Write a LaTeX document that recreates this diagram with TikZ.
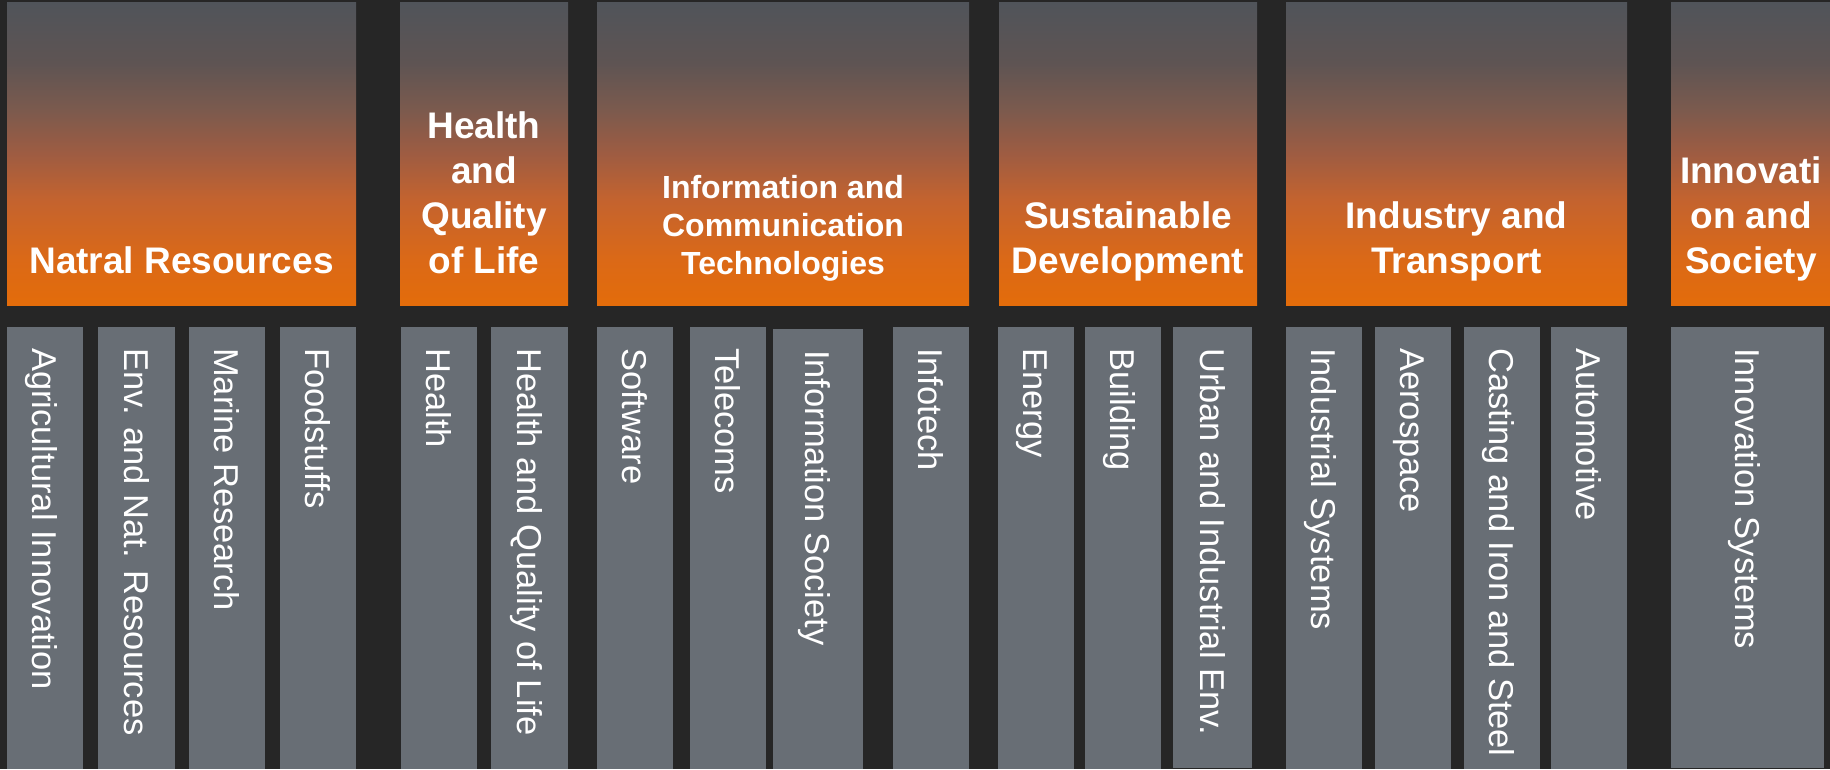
\documentclass[tikz,border=0pt]{standalone}
\usepackage{fontspec}
\setmainfont{Liberation Sans}
\usetikzlibrary{calc}
\definecolor{bgdark}{HTML}{262626}
\definecolor{subgray}{HTML}{686E75}
\definecolor{gA}{HTML}{50545A}
\definecolor{gB}{HTML}{5E5453}
\definecolor{gC}{HTML}{7A5A4E}
\definecolor{gD}{HTML}{9E5C42}
\definecolor{gE}{HTML}{C3632F}
\definecolor{gF}{HTML}{DB6917}
\definecolor{gG}{HTML}{E36C0A}
\pgfdeclareverticalshading{hdrshade}{100bp}{color(0bp)=(gG); color(25bp)=(gG); color(32.5bp)=(gF); color(42.5bp)=(gE); color(50bp)=(gD); color(57.5bp)=(gC); color(65bp)=(gB); color(75bp)=(gA); color(100bp)=(gA)}
\newcommand{\subbox}[6]{%
  \node[sub, minimum width=#3-#2, minimum height=#5-#4] (#1) at (#2,#4) {};
  \node[stxt] (#1t) at ($(#1.north)+(-12.4pt,-21pt)$) {#6};
}
\begin{document}
\begin{tikzpicture}[x=1pt,y=-1pt,
  hdr/.style={shading=hdrshade, anchor=north west, inner sep=0pt, outer sep=0pt, minimum height=303pt},
  sub/.style={fill=subgray, anchor=north west, inner sep=0pt, outer sep=0pt},
  htxt/.style={text=white, font=\bfseries\fontsize{37}{44.7}\selectfont, align=center, anchor=base, inner sep=0pt},
  ictxt/.style={text=white, font=\bfseries\fontsize{32}{38}\selectfont, align=center, anchor=base, inner sep=0pt},
  stxt/.style={text=white, font=\fontsize{34.5}{40}\selectfont, rotate=-90, anchor=base west, inner sep=0pt}]
\useasboundingbox (0,0) rectangle (1830,769);
\fill[bgdark] (0,0) rectangle (1830,769);
% headers
\node[hdr, minimum width=349pt] (nr) at (7,2) {};
\node[hdr, minimum width=168pt] (hq) at (400,2) {};
\node[hdr, minimum width=372pt] (ict) at (597,2) {};
\node[hdr, minimum width=258pt] (sd) at (999,2) {};
\node[hdr, minimum width=341pt] (itr) at (1286,2) {};
\node[hdr, minimum width=159pt] (inn) at (1671,2) {};
% header texts (anchor = baseline of last line)
\node[htxt] (nrt) at (181.5,273) {Natral Resources};
\node[htxt] (hqt) at (484,273) {Health\\and\\Quality\\of Life};
\node[ictxt] (ictt) at (783,274) {Information and\\Communication\\Technologies};
\node[htxt] (sdt) at (1128,273) {Sustainable\\Development};
\node[htxt] (itrt) at (1456.5,273) {Industry and\\Transport};
\node[htxt] (innt) at (1751,273) {Innovati\\on and\\Society};
% sub boxes
\subbox{agri}{7}{83}{327}{769}{Agricultural Innovation}
\subbox{env}{98}{175}{327}{769}{Env. and Nat. Resources}
\subbox{marine}{189}{265}{327}{769}{Marine Research}
\subbox{food}{280}{356}{327}{769}{Foodstuffs}
\subbox{health}{401}{477}{327}{769}{Health}
\subbox{hqol}{491}{568}{327}{769}{Health and Quality of Life}
\subbox{soft}{597}{673}{327}{769}{Software}
\subbox{tele}{690}{766}{327}{769}{Telecoms}
\subbox{isoc}{773}{863}{329}{769}{Information Society}
\subbox{itech}{893}{969}{327}{769}{Infotech}
\subbox{energy}{998}{1074}{327}{769}{Energy}
\subbox{build}{1085}{1161}{327}{769}{Building}
\subbox{urban}{1173}{1252}{327}{768}{Urban and Industrial Env.}
\subbox{indsys}{1286}{1362}{327}{769}{Industrial Systems}
\subbox{aero}{1375}{1451}{327}{769}{Aerospace}
\subbox{cast}{1464}{1540}{327}{769}{Casting and Iron and Steel}
\subbox{auto}{1551}{1627}{327}{769}{Automotive}
\subbox{innsys}{1671}{1824}{327}{768}{Innovation Systems}
\end{tikzpicture}
\end{document}
